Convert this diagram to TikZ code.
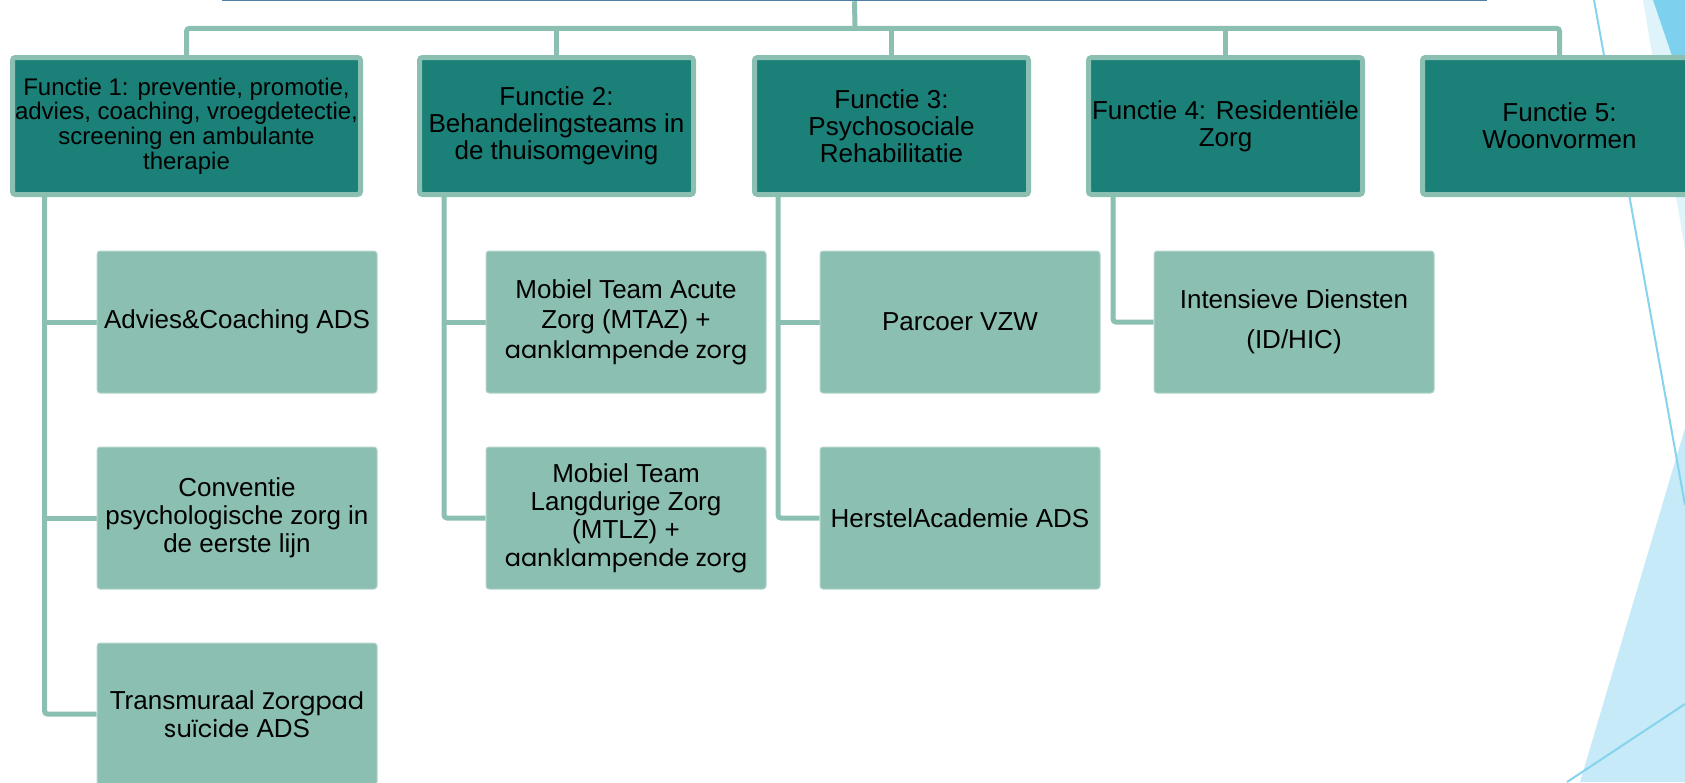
\documentclass[tikz,border=0pt]{standalone}
\usepackage{fontspec}
\setmainfont{Liberation Sans}
\newfontfamily\cgfont{Poppins}
\usetikzlibrary{backgrounds}
\definecolor{tealbox}{HTML}{1B8077}
\definecolor{mint}{HTML}{8BBFB1}
\definecolor{topline}{HTML}{4F7FA6}
\definecolor{skyA}{HTML}{C6EAF8}
\definecolor{skyB}{HTML}{DFF3FB}
\definecolor{skyC}{HTML}{7DD0EE}
\definecolor{skyL}{HTML}{86D3EE}
\begin{document}
\begin{tikzpicture}[x=0.5pt,y=-0.5pt,
  fbox/.style={draw=mint, line width=2.5pt, fill=tealbox, rounded corners=1.5pt,
    minimum width=137pt, minimum height=68.5pt, text=black, align=center, inner sep=0pt,
    font=\fontsize{13}{13.5}\selectfont},
  cbox/.style={draw=mint!65!white, line width=0.5pt, fill=mint, rounded corners=1.5pt,
    minimum width=140pt, minimum height=71pt, text=black, align=center, inner sep=0pt,
    font=\fontsize{13}{14}\selectfont},
  conn/.style={draw=mint, line width=2.5pt, rounded corners=1.5pt},
]
\useasboundingbox (0,0) rectangle (1685,782);
\clip (0,0) rectangle (1685,782);

% top box (mostly above the picture)
\node[draw=topline, line width=0.75pt, fill=white, minimum width=631.5pt, minimum height=60pt, inner sep=0pt] (top) at (854.5,-59.5) {};

% function boxes
\node[fbox, minimum width=174pt, font=\fontsize{12}{12.4}\selectfont] (F1) at (186.5,126)
  {Functie 1: preventie, promotie,\\ advies, coaching, vroegdetectie,\\ screening en ambulante\\ therapie};
\node[fbox] (F2) at (556.5,126) {Functie 2:\\ Behandelingsteams in\\ de thuisomgeving};
\node[fbox] (F3) at (891.5,126) {Functie 3:\\ Psychosociale\\ Rehabilitatie};
\node[fbox] (F4) at (1225.5,126) {Functie 4: Residentiële\\ Zorg};
\node[fbox] (F5) at (1559.5,126) {Functie 5:\\ Woonvormen};

% child boxes
\node[cbox] (C11) at (237,322) {Advies\&Coaching ADS};
\node[cbox] (C12) at (237,518) {Conventie\\ psychologische zorg in\\ de eerste lijn};
\node[cbox] (C13) at (237,714) {Transmuraal {\cgfont\fontsize{12}{14}\selectfont Zorgpad}\\ {\cgfont\fontsize{12}{14}\selectfont suïcide} ADS};
\node[cbox, font=\fontsize{13}{15}\selectfont] (C21) at (626,322) {Mobiel Team Acute\\ Zorg (MTAZ) +\\ {\cgfont\fontsize{12}{15}\selectfont aanklampende zorg}};
\node[cbox] (C22) at (626,518) {Mobiel Team\\ Langdurige Zorg\\ (MTLZ) +\\ {\cgfont\fontsize{12}{14}\selectfont aanklampende zorg}};
\node[cbox] (C31) at (960,322) {Parcoer VZW};
\node[cbox] (C32) at (960,518) {HerstelAcademie ADS};
\node[cbox, font=\fontsize{13}{20}\selectfont] (C41) at (1294,322) {Intensieve Diensten\\ (ID/HIC)};

\coordinate (bus) at (855,28.3);
\coordinate (v1) at ([xshift=17.25pt]F1.south west);
\coordinate (v2) at ([xshift=13.5pt]F2.south west);
\coordinate (v3) at ([xshift=13pt]F3.south west);
\coordinate (v4) at ([xshift=13.5pt]F4.south west);

\begin{pgfonlayer}{background}
\clip (0,0) rectangle (1685,782);
% decorative shapes at the right
\fill[skyB] (1643,0) -- (1685,0) -- (1685,250) -- cycle;
\fill[skyC] (1653,0) -- (1685,0) -- (1685,94) -- cycle;
\fill[skyA] (1685,428) -- (1580,782) -- (1685,782) -- cycle;
\draw[skyL, line width=1pt] (1594,0) -- (1685,505);
\draw[skyL, line width=1pt] (1685,704) -- (1567,782);

% connectors
\draw[conn] (top.south) -- (bus);
\draw[conn] (F1.north) |- (bus) -| (F5.north);
\draw[conn] (F2.north) -- (F2.north |- bus);
\draw[conn] (F3.north) -- (F3.north |- bus);
\draw[conn] (F4.north) -- (F4.north |- bus);

\draw[conn] (v1) |- (C13.west);
\draw[conn] (v1 |- C11.west) -- (C11.west);
\draw[conn] (v1 |- C12.west) -- (C12.west);
\draw[conn] (v2) |- (C22.west);
\draw[conn] (v2 |- C21.west) -- (C21.west);
\draw[conn] (v3) |- (C32.west);
\draw[conn] (v3 |- C31.west) -- (C31.west);
\draw[conn] (v4) |- (C41.west);
\end{pgfonlayer}
\end{tikzpicture}
\end{document}
